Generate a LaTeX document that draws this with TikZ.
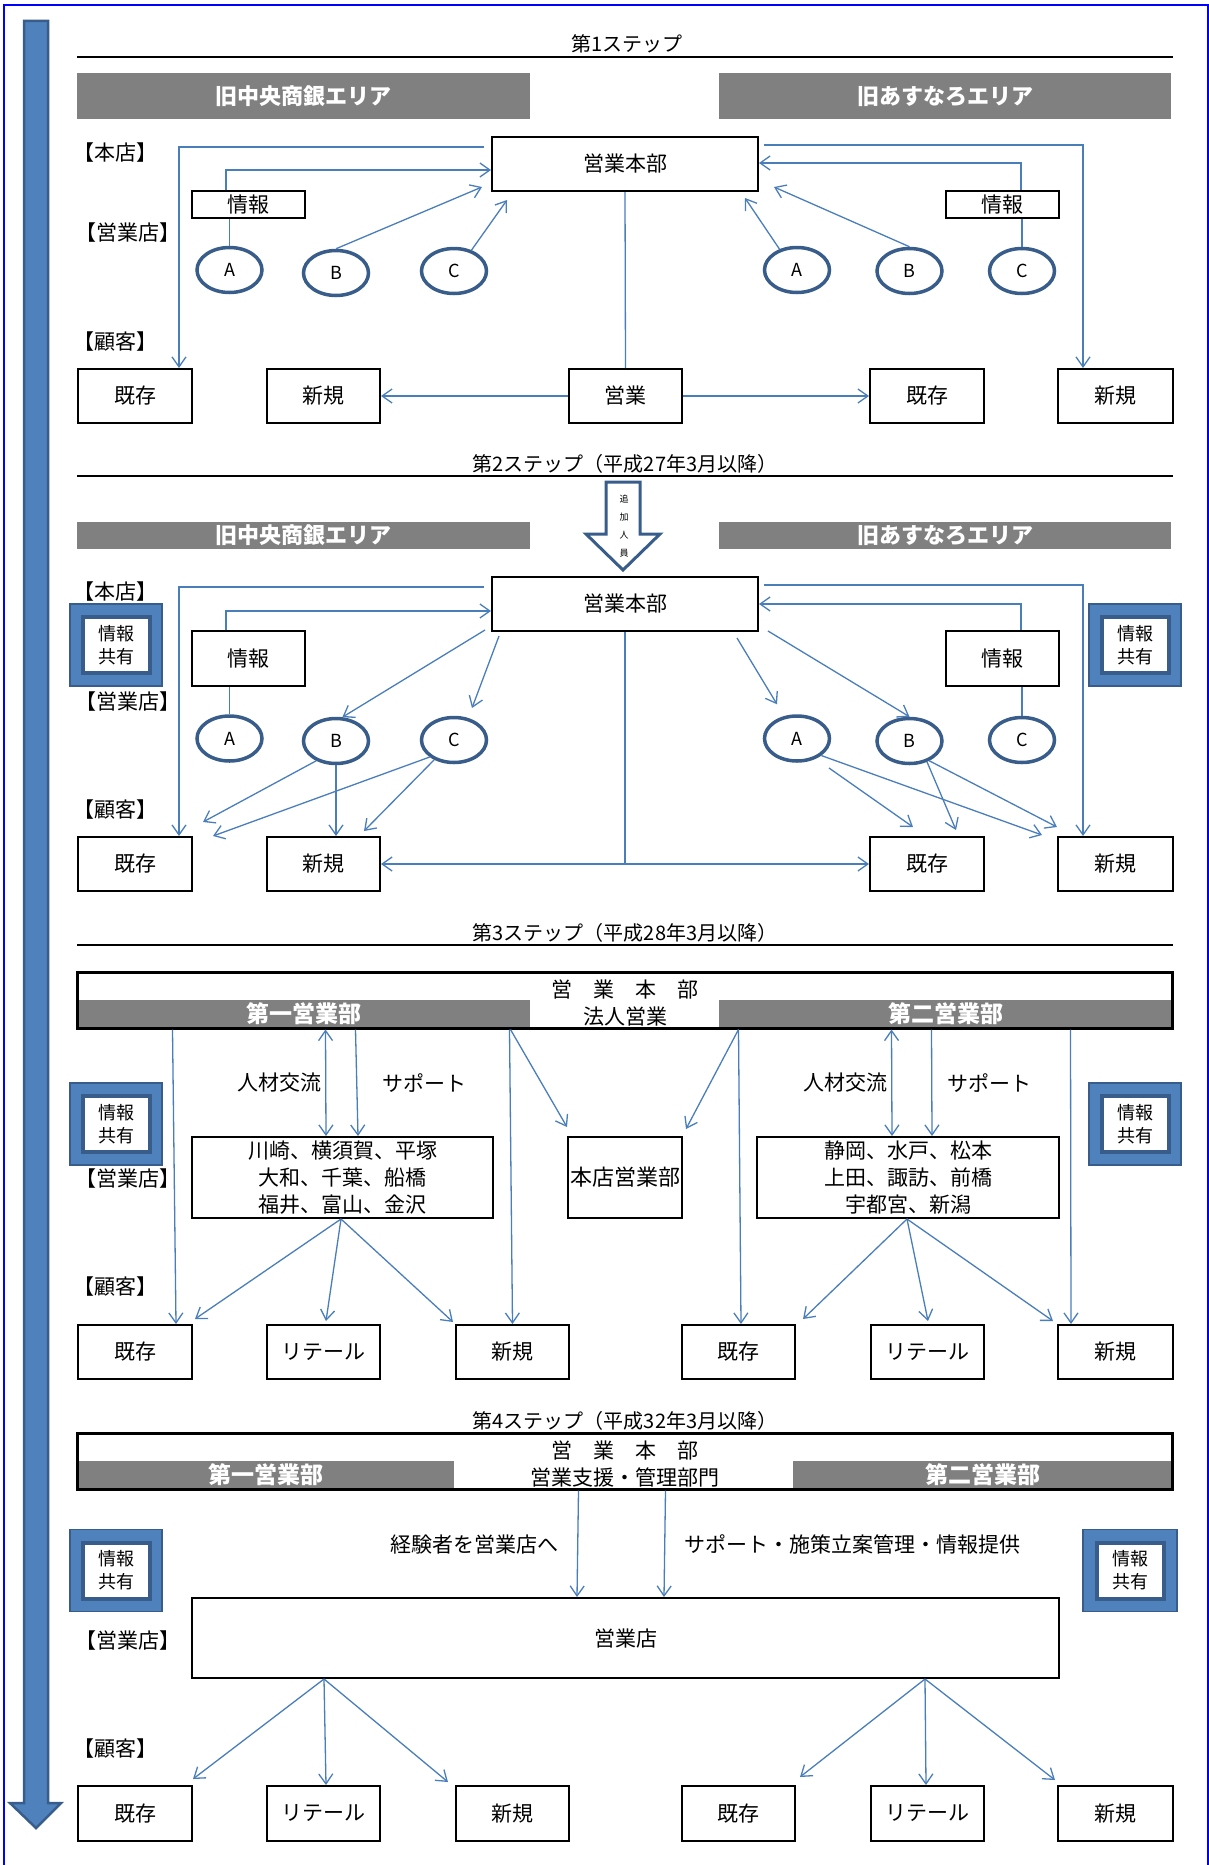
\documentclass[tikz,border=0pt]{standalone}
\usepackage{fontspec}
\setmainfont{Noto Sans CJK JP}
\usetikzlibrary{arrows.meta,shapes.geometric,calc}
\definecolor{lb}{HTML}{4A7EBB}
\definecolor{eb}{HTML}{385D8A}
\definecolor{af}{HTML}{4F81BD}
\definecolor{gb}{HTML}{808080}
\newcommand{\fsz}[2]{\fontsize{#1}{#2}\selectfont}
\begin{document}
\begin{tikzpicture}[x=1pt,y=-1pt,
  box/.style={draw, line width=2pt, inner sep=0pt, font=\fsz{21}{25}},
  ell/.style={ellipse, draw=eb, line width=3.5pt, minimum width=65, minimum height=45, inner sep=0pt, font=\fsz{18}{20}},
  gbar/.style={fill=gb, inner sep=0pt, text=white, font=\bfseries\fsz{22}{24}},
  gbar2/.style={fill=gb, inner sep=0pt, text=white, font=\bfseries\fsz{23}{24}},
  lab/.style={inner sep=0pt, font=\fsz{21}{23}},
  ttl/.style={inner sep=0pt, font=\fsz{20}{22}},
  txt/.style={inner sep=0pt, font=\fsz{21}{24}},
  ln/.style={draw=lb, line width=1.3pt},
  ar/.style={draw=lb, line width=1.3pt, -{Straight Barb[length=10pt,width=14pt]}},
  dar/.style={draw=lb, line width=1.3pt, {Straight Barb[length=10pt,width=14pt]}-{Straight Barb[length=10pt,width=14pt]}},
  kyo/.style={fill=af, draw=eb, line width=1.5pt, minimum width=92, minimum height=82, inner sep=0pt},
  kyi/.style={fill=white, draw=eb, line width=4pt, minimum width=67, minimum height=56, inner sep=0pt, align=center, font=\fsz{18}{23}},
  bigbox/.style={draw, line width=3pt, minimum width=1095, minimum height=56, inner sep=0pt},
  rule/.style={line width=1.5pt}
]
\useasboundingbox (0,0) rectangle (1209,1865);
% frame and big arrow
\draw[draw=blue, line width=1.2pt] (4,1870) -- (4,5) -- (1208,5) -- (1208,1870);
\draw[fill=af, draw=eb, line width=2.5pt] (24,21) -- (48,21) -- (48,1803) -- (61,1803) -- (36,1828) -- (10,1803) -- (24,1803) -- cycle;

% ================= STEP 1
\node[ttl] (t1) at (627,44) {第1ステップ};
\draw[rule] (77,57) -- (1173,57);
\node[gbar, minimum width=453, minimum height=46] (g1L) at (303.5,96) {旧中央商銀エリア};
\node[gbar, minimum width=452, minimum height=46] (g1R) at (945,96) {旧あすなろエリア};
\node[lab] (h1a) at (115.5,153) {【本店】};
\node[lab] (h1b) at (127.5,233) {【営業店】};
\node[lab] (h1c) at (115.5,342) {【顧客】};
\node[box, minimum width=266, minimum height=54] (hq1) at (625,164) {営業本部};
\node[box, minimum width=113, minimum height=27] (i1L) at (248.5,204.5) {情報};
\node[box, minimum width=113, minimum height=27] (i1R) at (1002.5,204.5) {情報};
\node[ell] (a1L) at (229.5,270) {A};
\node[ell] (b1L) at (336,273) {B};
\node[ell] (c1L) at (454,271) {C};
\node[ell] (a1R) at (797,270) {A};
\node[ell] (b1R) at (909.5,271) {B};
\node[ell] (c1R) at (1022,271) {C};
\node[box, minimum width=114, minimum height=54] (k1L) at (135,396) {既存};
\node[box, minimum width=113, minimum height=54] (s1L) at (323.5,396) {新規};
\node[box, minimum width=113, minimum height=54] (e1) at (625.5,396) {営業};
\node[box, minimum width=114, minimum height=54] (k1R) at (927,396) {既存};
\node[box, minimum width=115, minimum height=54] (s1R) at (1115.5,396) {新規};
\coordinate (p11) at (484,147);
\draw[ar] (p11) -| ($(k1L.north)+(44,0)$);
\draw[ln] (a1L.north) -- (a1L.north |- i1L.south);
\draw[ar] ($(i1L.north)+(-22.5,0)$) |- ($(hq1.west)+(0,6)$);
\draw[ar] (b1L.north) -- ($(hq1.south west)+(-9,-5)$);
\draw[ar] (c1L.50) -- ($(hq1.south west)+(16,8)$);
\coordinate (p12) at (764,145);
\draw[ar] (p12) -| ($(s1R.north)+(-32.5,0)$);
\draw[ln] (c1R.north) -- (c1R.north |- i1R.south);
\draw[ar] ($(i1R.north)+(18.5,0)$) |- ($(hq1.east)+(0,-1)$);
\draw[ar] (a1R.130) -- ($(hq1.south east)+(-14,6)$);
\draw[ar] (b1R.north) -- ($(hq1.south east)+(15,-5)$);
\draw[ln] (hq1.south) -- (e1.north);
\draw[ar] (e1.west) -- (s1L.east);
\draw[ar] (e1.east) -- (k1R.west);

% ================= STEP 2
\node[ttl] (t2) at (625,464) {第2ステップ（平成27年3月以降）};
\draw[rule] (77,476) -- (1173,476);
\draw[fill=white, draw=eb, line width=3pt] (606,482) -- (640,482) -- (640,534) -- (660,534) -- (623,570) -- (586,534) -- (606,534) -- cycle;
\node[align=center, inner sep=0pt, font=\fsz{9}{18}] (zj) at (624,526) {追\\加\\人\\員};
\node[gbar, minimum width=453, minimum height=27] (g2L) at (303.5,535.5) {旧中央商銀エリア};
\node[gbar, minimum width=452, minimum height=27] (g2R) at (945,535.5) {旧あすなろエリア};
\node[lab] (h2a) at (115.5,592) {【本店】};
\node[lab] (h2b) at (127.5,702) {【営業店】};
\node[lab] (h2c) at (115.5,810) {【顧客】};
\node[kyo] (q2Lo) at (116,645) {};
\node[kyi] (q2L) at (116,645) {情報\\共有};
\node[kyo] (q2Ro) at (1135,645) {};
\node[kyi] (q2R) at (1135,645) {情報\\共有};
\node[box, minimum width=266, minimum height=54] (hq2) at (625,604) {営業本部};
\node[box, minimum width=113, minimum height=55] (i2L) at (248.5,658.5) {情報};
\node[box, minimum width=113, minimum height=55] (i2R) at (1002.5,658.5) {情報};
\node[ell] (a2L) at (229.5,738.5) {A};
\node[ell] (b2L) at (336,741) {B};
\node[ell] (c2L) at (454,740) {C};
\node[ell] (a2R) at (797,738.5) {A};
\node[ell] (b2R) at (909.5,741) {B};
\node[ell] (c2R) at (1022,740) {C};
\node[box, minimum width=114, minimum height=54] (k2L) at (135,864) {既存};
\node[box, minimum width=113, minimum height=54] (s2L) at (323.5,864) {新規};
\node[box, minimum width=114, minimum height=54] (k2R) at (927,864) {既存};
\node[box, minimum width=115, minimum height=54] (s2R) at (1115.5,864) {新規};
\coordinate (p21) at (484,587);
\draw[ar] (p21) -| ($(k2L.north)+(44,0)$);
\draw[ln] (a2L.north) -- (a2L.north |- i2L.south);
\draw[ar] ($(i2L.north)+(-22.5,0)$) |- ($(hq2.west)+(0,7)$);
\draw[ar] ($(hq2.south west)+(-6,-2)$) -- (b2L.75);
\coordinate (p22) at (472,708);
\draw[ar] ($(hq2.south west)+(8,4)$) -- (p22);
\draw[ar] (b2L.225) -- ($(k2L.north east)+(10,-14)$);
\draw[ar] (b2L.south) -- (b2L.south |- s2L.north);
\draw[ar] (c2L.215) -- ($(k2L.north east)+(20,0)$);
\draw[ar] (c2L.225) -- ($(s2L.north east)+(-17,-5)$);
\coordinate (p23) at (625,864);
\draw[ln] (hq2.south) -- (p23);
\draw[ar] (p23) -- (s2L.east);
\draw[ar] (p23) -- (k2R.west);
\coordinate (p24) at (764,585);
\draw[ar] (p24) -| ($(s2R.north)+(-32.5,0)$);
\draw[ln] (c2R.north) -- (c2R.north |- i2R.south);
\draw[ar] ($(i2R.north)+(18.5,0)$) |- (hq2.east);
\draw[ar] ($(hq2.south east)+(-22,6)$) -- ($(a2R.north)+(-20,-10)$);
\draw[ar] ($(hq2.south east)+(9,-1)$) -- (b2R.north);
\draw[ar] (a2R.-35) -- ($(s2R.north west)+(-15,-1)$);
\coordinate (p25) at (829,768);
\draw[ar] (p25) -- ($(k2R.north)+(-14,-9)$);
\draw[ar] (b2R.-50) -- ($(k2R.north east)+(-29,-6)$);
\draw[ar] (b2R.-45) -- ($(s2R.north west)+(0,-9)$);

% ================= STEP 3
\node[ttl] (t3) at (625,933) {第3ステップ（平成28年3月以降）};
\draw[rule] (77,945) -- (1173,945);
\node[gbar2, minimum width=453, minimum height=28] (g3L) at (303.5,1014) {第一営業部};
\node[gbar2, minimum width=453, minimum height=28] (g3R) at (945.5,1014) {第二営業部};
\node[bigbox] (hq3) at (624.5,1000) {};
\node[txt] (hq3t) at (625,989) {営　業　本　部};
\node[txt] (hq3s) at (625,1017) {法人営業};
\node[lab] (h3b) at (127.5,1179) {【営業店】};
\node[lab] (h3c) at (115.5,1287) {【顧客】};
\node[kyo] (q3Lo) at (116,1124) {};
\node[kyi] (q3L) at (116,1124) {情報\\共有};
\node[kyo] (q3Ro) at (1135,1124) {};
\node[kyi] (q3R) at (1135,1124) {情報\\共有};
\node[txt] (jz3L) at (279,1083) {人材交流};
\node[txt] (sp3L) at (424,1083) {サポート};
\node[txt] (jz3R) at (845,1083) {人材交流};
\node[txt] (sp3R) at (989,1083) {サポート};
\node[box, minimum width=301, minimum height=81, align=center, font=\fsz{21}{27}] (cL) at (342.5,1177.5) {川崎、横須賀、平塚\\大和、千葉、船橋\\福井、富山、金沢};
\node[box, minimum width=302, minimum height=81, align=center, font=\fsz{21}{27}] (cR) at (908,1177.5) {静岡、水戸、松本\\上田、諏訪、前橋\\宇都宮、新潟};
\node[box, minimum width=114, minimum height=81, font=\fsz{22}{24}] (hb) at (625,1177.5) {本店営業部};
\node[box, minimum width=114, minimum height=54] (k3L) at (135,1352) {既存};
\node[box, minimum width=113, minimum height=54] (r3L) at (323.5,1352) {リテール};
\node[box, minimum width=113, minimum height=54] (s3L) at (512.5,1352) {新規};
\node[box, minimum width=113, minimum height=54] (k3R) at (738.5,1352) {既存};
\node[box, minimum width=113, minimum height=54] (r3R) at (927.5,1352) {リテール};
\node[box, minimum width=115, minimum height=54] (s3R) at (1115.5,1352) {新規};
\draw[ar] ($(hq3.south west)+(97,0)$) -- ($(k3L.north)+(41,0)$);
\draw[dar] ($(hq3.south west)+(250,0)$) -- ($(cL.north west)+(135,0)$);
\draw[ar] ($(hq3.south west)+(280,0)$) -- ($(cL.north west)+(167,0)$);
\coordinate (f3L) at ($(cL.south)+(-1.5,0)$);
\draw[ar] (f3L) -- ($(k3L.north east)+(2,-5)$);
\draw[ar] (f3L) -- ($(r3L.north)+(2.5,-3)$);
\draw[ar] (f3L) -- ($(s3L.north west)+(-2,-2)$);
\draw[ar] ($(hq3.south west)+(434,0)$) -- (s3L.north);
\draw[ar] ($(hq3.south west)+(435,0)$) -- ($(hb.north west)+(0,-9)$);
\draw[ar] ($(hq3.south west)+(663,0)$) -- ($(hb.north east)+(3,-7)$);
\draw[ar] ($(hq3.south west)+(663,0)$) -- ($(k3R.north)+(2.5,0)$);
\draw[dar] ($(hq3.south west)+(816,0)$) -- ($(cR.north west)+(136,0)$);
\draw[ar] ($(hq3.south west)+(856,0)$) -- ($(cR.north west)+(176,0)$);
\coordinate (f3R) at ($(cR.south)+(-1,0)$);
\draw[ar] (f3R) -- ($(k3R.north east)+(7,-5)$);
\draw[ar] (f3R) -- ($(r3R.north)+(0.5,-3)$);
\draw[ar] (f3R) -- ($(s3R.north west)+(-4,-3)$);
\draw[ar] ($(hq3.south west)+(995,0)$) -- ($(s3R.north west)+(14,0)$);

% ================= STEP 4
\node[ttl] (t4) at (625,1421) {第4ステップ（平成32年3月以降）};
\node[gbar2, minimum width=377, minimum height=28] (g4L) at (265.5,1475) {第一営業部};
\node[gbar2, minimum width=379, minimum height=28] (g4R) at (982.5,1475) {第二営業部};
\node[bigbox] (hq4) at (624.5,1461) {};
\node[txt] (hq4t) at (625,1450) {営　業　本　部};
\node[txt] (hq4s) at (625,1477) {営業支援・管理部門};
\node[lab] (h4b) at (127.5,1640) {【営業店】};
\node[lab] (h4c) at (115.5,1748) {【顧客】};
\node[kyo] (q4Lo) at (116,1570.5) {};
\node[kyi] (q4L) at (116,1570.5) {情報\\共有};
\node[kyo, minimum width=94] (q4Ro) at (1130,1570.5) {};
\node[kyi] (q4R) at (1130,1570.5) {情報\\共有};
\node[box, minimum width=867, minimum height=80] (eg) at (625.5,1638) {営業店};
\node[txt] (kk) at (474,1544) {経験者を営業店へ};
\node[txt] (sk) at (852,1544) {サポート・施策立案管理・情報提供};
\draw[ar] ($(hq4.south west)+(503,0)$) -- ($(eg.north west)+(386,0)$);
\draw[ar] ($(hq4.south west)+(590,0)$) -- ($(eg.north west)+(473,0)$);
\node[box, minimum width=114, minimum height=55] (k4L) at (135,1813.5) {既存};
\node[box, minimum width=113, minimum height=55] (r4L) at (323.5,1813.5) {リテール};
\node[box, minimum width=113, minimum height=55] (s4L) at (512.5,1813.5) {新規};
\node[box, minimum width=113, minimum height=55] (k4R) at (738.5,1813.5) {既存};
\node[box, minimum width=113, minimum height=55] (r4R) at (927.5,1813.5) {リテール};
\node[box, minimum width=115, minimum height=55] (s4R) at (1115.5,1813.5) {新規};
\coordinate (f4L) at ($(eg.south west)+(133,0)$);
\draw[ar] (f4L) -- ($(k4L.north east)+(0,-6)$);
\draw[ar] (f4L) -- ($(r4L.north)+(2.5,0)$);
\draw[ar] (f4L) -- ($(s4L.north west)+(-7,-3)$);
\coordinate (f4R) at ($(eg.south west)+(734,0)$);
\draw[ar] (f4R) -- ($(k4R.north east)+(4,-8)$);
\draw[ar] (f4R) -- ($(r4R.north)+(-1.5,0)$);
\draw[ar] (f4R) -- ($(s4R.north west)+(-2,-5)$);
\end{tikzpicture}
\end{document}
